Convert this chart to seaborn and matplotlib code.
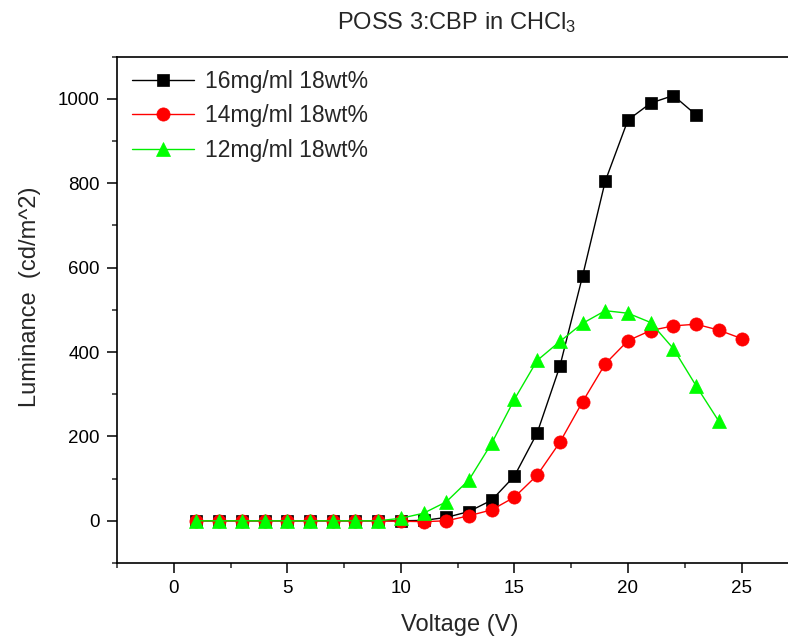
import matplotlib
matplotlib.use("Agg")
import matplotlib.pyplot as plt
import seaborn as sns
import pandas as pd
from matplotlib.ticker import MultipleLocator

# ---- data ----
v16 = list(range(1, 24))
lum16 = [0, 0, 0, 0, 0, 0, 0, 0, 0, 0, 1, 8, 22, 49, 106, 208, 366, 580, 805, 950, 990, 1008, 962]
v14 = list(range(1, 26))
lum14 = [0, 0, 0, 0, 0, 0, 0, 0, 0, -1, -2, 0, 12, 26, 56, 108, 186, 282, 372, 427, 451, 462, 466, 452, 432]
v12 = list(range(1, 25))
lum12 = [0, 0, 0, 0, 0, 0, 0, 0, 0, 6, 18, 45, 97, 184, 288, 380, 425, 468, 498, 492, 470, 408, 320, 236]
labels = ["16mg/ml 18wt%", "14mg/ml 18wt%", "12mg/ml 18wt%"]
title = "POSS 3:CBP in CHCl$_3$"
xlabel = "Voltage (V)"
ylabel = "Luminance  (cd/m^2)"

sns.set_style("ticks")
plt.rcParams['font.family'] = ['Liberation Sans', 'DejaVu Sans']
plt.rcParams['mathtext.fontset'] = 'custom'
plt.rcParams['mathtext.rm'] = 'Liberation Sans'
plt.rcParams['mathtext.it'] = 'Liberation Sans'

W, H = 788, 639
fig = plt.figure(figsize=(W / 100, H / 100), dpi=100)
left_px, right_px, top_px, bot_px = 117, 821, 56.7, 563
ax = fig.add_axes([left_px / W, 1 - bot_px / H, (right_px - left_px) / W, (bot_px - top_px) / H])

df16 = pd.DataFrame({"V": v16, "L": lum16})
df14 = pd.DataFrame({"V": v14, "L": lum14})
df12 = pd.DataFrame({"V": v12, "L": lum12})

sns.lineplot(data=df16, x="V", y="L", ax=ax, color="black", lw=1.0, marker="s",
             markersize=8, markeredgecolor="black", markerfacecolor="black",
             markeredgewidth=0.5, label=labels[0])
sns.lineplot(data=df14, x="V", y="L", ax=ax, color="#ff0000", lw=1.0, marker="o",
             markersize=9.5, markeredgecolor="#ff0000", markerfacecolor="#ff0000",
             markeredgewidth=0.5, label=labels[1])
sns.lineplot(data=df12, x="V", y="L", ax=ax, color="#00ee00", lw=1.0, marker="^",
             markersize=10, markeredgecolor="#00ff00", markerfacecolor="#00ff00",
             markeredgewidth=0.5, label=labels[2])

ax.set_xlim(-2.5, 28.5)
ax.set_ylim(-100, 1100)
ax.xaxis.set_major_locator(MultipleLocator(5))
ax.xaxis.set_minor_locator(MultipleLocator(2.5))
ax.yaxis.set_major_locator(MultipleLocator(200))
ax.yaxis.set_minor_locator(MultipleLocator(100))
ax.tick_params(which="major", direction="out", length=7.5, width=1.1, labelsize=13.5, pad=5,
               color="black", labelcolor="black")
ax.tick_params(which="minor", direction="out", length=3.8, width=1.1)
for s in ax.spines.values():
    s.set_visible(True)
    s.set_linewidth(1.2)
    s.set_color("black")
ax.set_xlabel("")
ax.set_ylabel("")

fig.text(460 / W, 1 - 625 / H, xlabel, ha="center", va="center", fontsize=17)
fig.text(30 / W, 1 - 297 / H, ylabel, ha="center", va="center", rotation=90, fontsize=17)
fig.text(457 / W, 1 - 23 / H, title, ha="center", va="center", fontsize=17)

leg = ax.legend(loc="upper left", bbox_to_anchor=(132 / W, 1 - 70 / H),
                bbox_transform=fig.transFigure, frameon=False, fontsize=16.5,
                handlelength=2.7, handletextpad=0.5, labelspacing=0.5,
                borderaxespad=0, borderpad=0)

fig.savefig("out.png", dpi=100)
